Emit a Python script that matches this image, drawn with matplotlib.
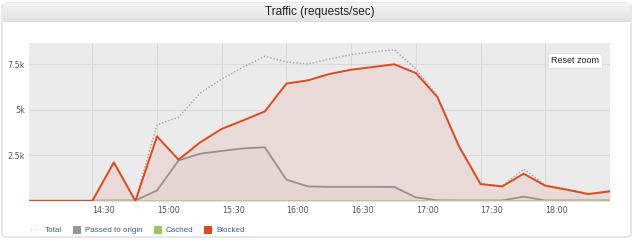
import matplotlib.pyplot as plt
import matplotlib.dates as mdates
from matplotlib.colors import LinearSegmentedColormap
from matplotlib.patches import FancyBboxPatch, Rectangle
from matplotlib.ticker import FuncFormatter
import numpy as np
import pandas as pd

# 10-minute samples, 14:00 -> 18:30 (values in thousands of req/s)
times = pd.date_range("2024-01-01 14:00", "2024-01-01 18:30", freq="10min")
total = [0, 0, 0, 0, 2.12, 0.03, 4.19, 4.6, 5.93, 6.70, 7.36, 7.95, 7.64, 7.53,
         7.8, 8.04, 8.19, 8.31, 7.25, 5.76, 3.03, 0.96, 0.83, 1.76, 0.87, 0.65, 0.41, 0.56]
passed = [0.02, 0.02, 0.02, 0.02, 0.03, 0.03, 0.58, 2.23, 2.6, 2.75, 2.89, 2.95, 1.17, 0.80,
          0.78, 0.78, 0.78, 0.77, 0.2, 0.04, 0.03, 0.03, 0.03, 0.24, 0.03, 0.03, 0.03, 0.03]
cached = [0] * 28
blocked = [0, 0, 0, 0, 2.12, 0, 3.55, 2.27, 3.22, 3.96, 4.43, 4.92, 6.45, 6.63,
           6.98, 7.21, 7.36, 7.51, 7.03, 5.71, 3.0, 0.93, 0.80, 1.50, 0.84, 0.62, 0.38, 0.53]
xticks = times[3:-1:3]  # 14:30 ... 18:00
yticks = [2.5, 5, 7.5]
legend_names = ["Total", "Passed to origin", "Cached", "Blocked"]

W, H = 640, 240
fig = plt.figure(figsize=(6.4, 2.4), dpi=100)
fig.patch.set_facecolor("white")

# panel frame + header bar
fig.patches.append(FancyBboxPatch((2 / W, 3 / H), 629 / W, 234 / H,
                                  boxstyle="round,pad=0,rounding_size=0.01",
                                  transform=fig.transFigure, fc="white", ec="#d6d6d6", lw=0.8, zorder=-5))
grad = np.linspace(0, 1, 20).reshape(-1, 1)
hax = fig.add_axes([3 / W, 1 - 22 / H, 627 / W, 19 / H])
hax.imshow(grad, aspect="auto", cmap=LinearSegmentedColormap.from_list("h", ["#f5f5f5", "#e1e1e1"]),
           extent=[0, 1, 0, 1])
hax.axhline(0, color="#cfcfcf", lw=1)
hax.set_axis_off()
fig.text(320 / W, 1 - 12.5 / H, "Traffic (requests/sec)", ha="center", va="center",
         fontsize=8.5, family="Liberation Sans", color="#222222")

ax = fig.add_axes([29 / W, 1 - 201 / H, 581 / W, 158 / H])
ax.set_facecolor("#ebebeb")

ax.fill_between(times, blocked, color="#eadad7", lw=0, zorder=1)
ax.fill_between(times, passed, color="#e5d6d4", lw=0, zorder=1)
ax.plot(times, total, color="#a3a3a3", lw=1.0, ls=(0, (1, 1.4)), zorder=3)
ax.plot(times, passed, color="#979090", lw=1.3, zorder=4)
ax.plot(times, cached, color="#b8c49a", lw=1.3, zorder=4)
ax.plot(times, blocked, color="#dd4a1f", lw=1.4, zorder=5)

ax.set_xlim(pd.Timestamp("2024-01-01 14:00:40"), pd.Timestamp("2024-01-01 18:30"))
ax.set_ylim(0, 8.68)
ax.set_yticks(yticks)
ax.yaxis.set_major_formatter(FuncFormatter(lambda v, p: f"{v:g}k"))
ax.set_xticks(xticks)
ax.xaxis.set_major_formatter(mdates.DateFormatter("%H:%M"))
ax.grid(True, color="#d9d9d9", lw=0.8, zorder=0)
ax.set_axisbelow(True)
for s in ax.spines.values():
    s.set_visible(False)
ax.tick_params(length=0, labelsize=5.8, colors="#555555", pad=3)
ax.tick_params(axis="x", pad=3.5)
for lab in ax.get_xticklabels():
    lab.set_ha("left")

# reset zoom button
fig.text(575 / W, 1 - 60.5 / H, "Reset zoom", ha="center", va="center", fontsize=6.5,
         family="Liberation Sans", color="#222222",
         bbox=dict(boxstyle="square,pad=0.35", fc="white", ec="#dddddd", lw=0.6))

# legend
ly = 1 - 230 / H
fig.text(36 / W, ly, "\u00b7 \u00b7 \u00b7", ha="center", va="center", fontsize=5, color="#999999")
items = [(legend_names[0], None, 45), (legend_names[1], "#969696", 73),
         (legend_names[2], "#9dc45f", 154), (legend_names[3], "#dd4a1f", 204)]
for name, col, x0 in items:
    if col is None:
        fig.text(x0 / W, ly, name, ha="left", va="center", fontsize=5.8,
                 family="Liberation Sans", color="#3d5b8c")
    else:
        fig.patches.append(Rectangle((x0 / W, 1 - 234 / H), 8 / W, 8 / H, transform=fig.transFigure,
                                     fc=col, ec="none"))
        fig.text((x0 + 12) / W, ly, name, ha="left", va="center", fontsize=5.8,
                 family="Liberation Sans", color="#3d5b8c")

fig.savefig("out.png", dpi=100)
